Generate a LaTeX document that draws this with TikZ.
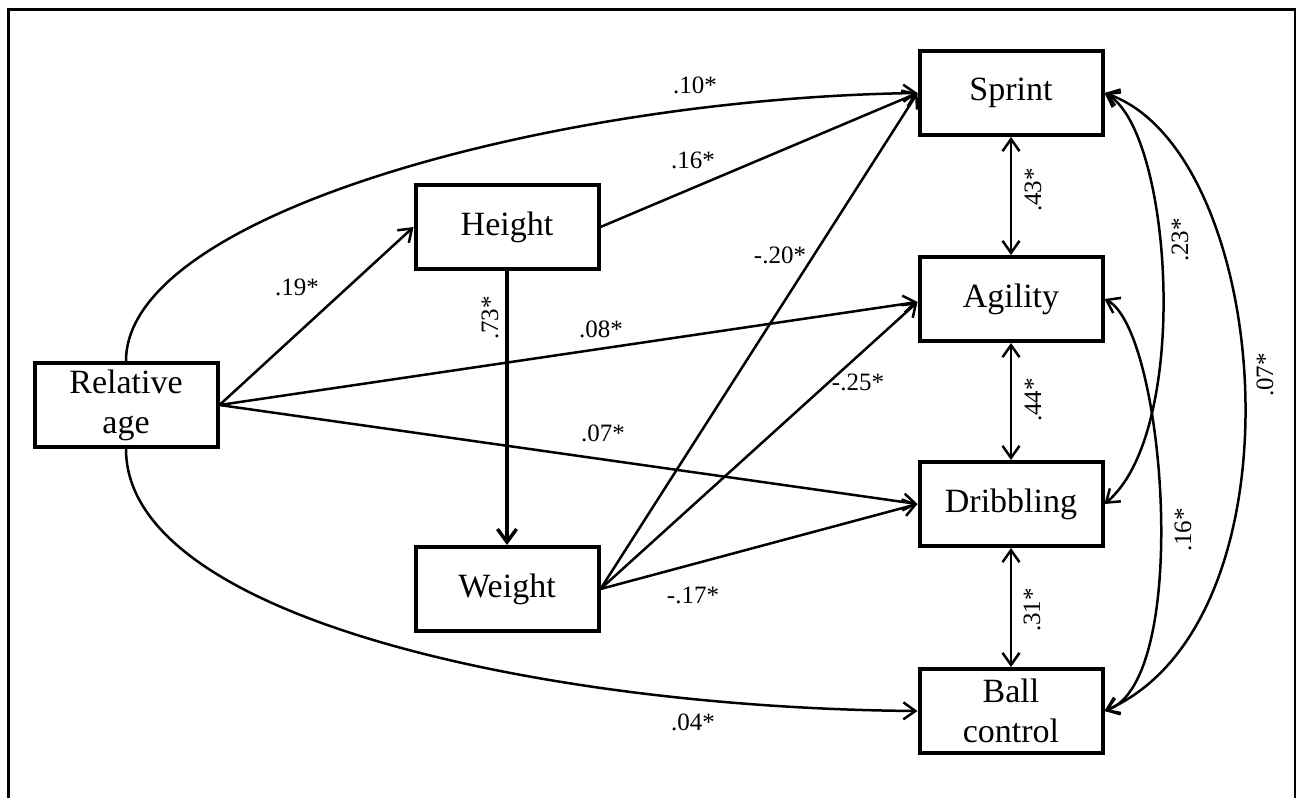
\documentclass[tikz,border=0pt]{standalone}
\usepackage{fontspec}
\setmainfont{Liberation Serif}
\usetikzlibrary{arrows.meta}
\begin{document}
\begin{tikzpicture}[x=1pt,y=-1pt,
  var/.style={draw, line width=4pt, minimum width=183pt, minimum height=84pt,
    inner sep=0pt, align=center, font=\fontsize{34}{40}\selectfont},
  coef/.style={inner sep=0pt, font=\fontsize{25}{28}\selectfont},
  vcoef/.style={coef, rotate=90},
  path/.style={line width=2.5pt, -{Straight Barb[length=12pt,width=17pt,line width=2.5pt]}},
  cov/.style={line width=2.5pt, {Straight Barb[length=12pt,width=17pt,line width=2.5pt]}-{Straight Barb[length=12pt,width=17pt,line width=2.5pt]}},
  strong/.style={line width=3.8pt, -{Straight Barb[length=13pt,width=19pt,line width=3.5pt]}}]
  \useasboundingbox (0,0) rectangle (1303,798);
  % open frame
  \draw[line width=2.8pt] (8.5,798) -- (8.5,9.5) -- (1295,9.5) -- (1295,798);

  % variables
  \node[var] (ra) at (126,405) {Relative\\age};
  \node[var] (ht) at (507,227) {Height};
  \node[var] (wt) at (507,589) {Weight};
  \node[var] (sp) at (1011,93) {Sprint};
  \node[var] (ag) at (1011,299) {Agility};
  \node[var] (dr) at (1011,504) {Dribbling};
  \node[var] (bc) at (1011,711) {Ball\\control};

  % paths from relative age
  \draw[path] (ra.north) .. controls (126,212) and (560,98) .. (sp.west);
  \draw[path] (ra.south) .. controls (126,620) and (550,708) .. (bc.west);
  \draw[path] (ra.east) -- (ht.west);
  \draw[path] (ra.east) -- ([yshift=-3pt]ag.west);
  \draw[path] (ra.east) -- (dr.west);

  % paths from height and weight
  \draw[path] (ht.east) -- (sp.west);
  \draw[strong] (ht.south) -- (wt.north);
  \draw[path] (wt.east) -- (sp.west);
  \draw[path] (wt.east) -- ([yshift=-3pt]ag.west);
  \draw[path] (wt.east) -- (dr.west);

  % covariances between outcomes
  \draw[cov] (sp.south) -- (ag.north);
  \draw[cov] (ag.south) -- (dr.north);
  \draw[cov] (dr.south) -- (bc.north);
  \draw[cov] (sp.east) .. controls (1172,130) and (1192,430) .. (dr.east);
  \draw[cov] (ag.east) .. controls (1165,330) and (1192,680) .. (bc.east);
  \draw[cov] (sp.east) .. controls (1272,150) and (1310,620) .. (bc.east);

  % coefficients
  \node[coef] (c1) at (695,85) {.10*};
  \node[coef] (c2) at (693,160) {.16*};
  \node[coef] (c3) at (297,287) {.19*};
  \node[vcoef] (c4) at (490,318) {.73*};
  \node[coef] (c5) at (601,329) {.08*};
  \node[coef] (c6) at (603,433) {.07*};
  \node[coef] (c7) at (780,255) {-.20*};
  \node[coef] (c8) at (858,382) {-.25*};
  \node[coef] (c9) at (693,595) {-.17*};
  \node[coef] (c10) at (693,722) {.04*};
  \node[vcoef] (c11) at (1033,190) {.43*};
  \node[vcoef] (c12) at (1033,400) {.44*};
  \node[vcoef] (c13) at (1032,610) {.31*};
  \node[vcoef] (c14) at (1180,240) {.23*};
  \node[vcoef] (c15) at (1183,530) {.16*};
  \node[vcoef] (c16) at (1265,375) {.07*};
\end{tikzpicture}
\end{document}
